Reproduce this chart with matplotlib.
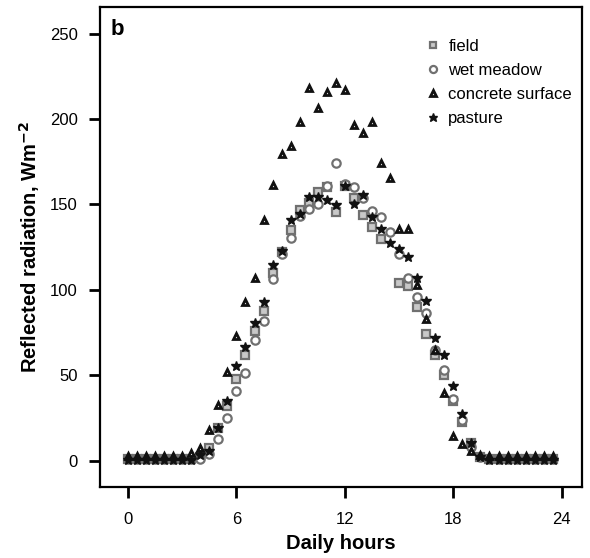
import numpy as np
import matplotlib.pyplot as plt

plt.rcParams['font.family'] = ['Liberation Sans', 'DejaVu Sans']

# half-hourly readings, 0.0 ... 23.5 h
hours = np.arange(0, 24, 0.5)

field = [1, 1, 1, 1, 1, 1, 1, 1,
         2, 7.6, 19, 32, 48, 62, 76, 87.6,
         109.6, 122, 135, 147, 151, 157.5, 160, 145.5,
         160.7, 154, 144, 137, 129.5, np.nan, 104, 102,
         90, 74, 61.6, 50, 35, 22.7, 10.5, 2,
         1, 1, 1, 1, 1, 1, 1, 1]

wet_meadow = [1, 1, 1, 1, 1, 1, 1, 1,
              1, 4, 12.4, 25, 40.6, 51, 70.7, 82,
              106.6, 121, 130.4, 143, 147.4, 150, 161, 174,
              162, 160, 154, 146, 142.6, 134, 121, 107,
              96, 86.7, 65, 53, 36, 24, 8, 2,
              1, 1, 1, 1, 1, 1, 1, 1]

concrete = [2.5, 2.5, 2.5, 2.5, 2.5, 2.5, 2.5, 4.7,
            7.4, 17.7, 32.3, 51.8, 73, 92.7, 107, 141,
            161.4, 179.5, 184.3, 198.3, 218.4, 206.3, 216, 221.3,
            216.8, 196.6, 191.5, 198.3, 174, 165.5, 135.4, 135.4,
            102.7, 83, 65, 39.6, 14.4, 9.5, 5.7, 3,
            2.5, 2.5, 2.5, 2.5, 2.5, 2.5, 2.5, 2.5]

pasture = [0.5, 0.5, 0.5, 0.5, 0.5, 0.5, 0.5, 0.5,
           3, 5.5, 19.2, 34.8, 55.5, 66.8, 80.4, 92.7,
           114.4, 122.5, 140.8, 144.5, 154.6, 154.6, 152.7, 149.8,
           160.7, 150.3, 155.2, 142.6, 135.8, 127.6, 124, 119,
           107, 93.4, 71.7, 61.6, 43.5, 27.4, 10.5, 2,
           0.5, 0.5, 0.5, 0.5, 0.5, 0.5, 0.5, 0.5]

fig = plt.figure(figsize=(5.9, 5.58), dpi=100)
ax = fig.add_axes([0.1695, 0.128, 0.817, 0.859])

ax.plot(hours, field, linestyle='none', marker='s', markersize=5.8,
        markerfacecolor='#c8c8c8', markeredgecolor='#707070', markeredgewidth=1.6,
        label='field')
ax.plot(hours, wet_meadow, linestyle='none', marker='o', markersize=6.0,
        markerfacecolor='white', markeredgecolor='#707070', markeredgewidth=1.6,
        label='wet meadow')
ax.plot(hours, concrete, linestyle='none', marker='^', markersize=4.6,
        markerfacecolor='white', markeredgecolor='#111111', markeredgewidth=2.0,
        label='concrete surface')
ax.plot(hours, pasture, linestyle='none', marker='*', markersize=7.5,
        color='#111111', label='pasture')

ax.set_xlim(-1.55, 25.12)
ax.set_ylim(-15.2, 265.4)
ax.set_xticks([0, 6, 12, 18, 24])
ax.set_yticks([0, 50, 100, 150, 200, 250])

for s in ax.spines.values():
    s.set_linewidth(1.6)
ax.tick_params(direction='out', length=8, width=2, labelsize=12, pad=8)
ax.tick_params(axis='x', pad=10)

ax.set_xlabel('Daily hours', fontsize=14.5, fontweight='bold', labelpad=5)
ax.set_ylabel('Reflected radiation, Wm$^{\\mathbf{-2}}$', fontsize=14.5,
              fontweight='bold', labelpad=6)

ax.text(0.022, 0.975, 'b', transform=ax.transAxes, fontsize=16,
        fontweight='bold', va='top', ha='left')

ax.legend(loc='upper right', frameon=False, fontsize=12, handlelength=0.8,
          handletextpad=0.5, labelspacing=0.55, borderaxespad=0.2,
          markerscale=0.85, bbox_to_anchor=(1.0, 0.955))

fig.savefig('out.png', dpi=100)
